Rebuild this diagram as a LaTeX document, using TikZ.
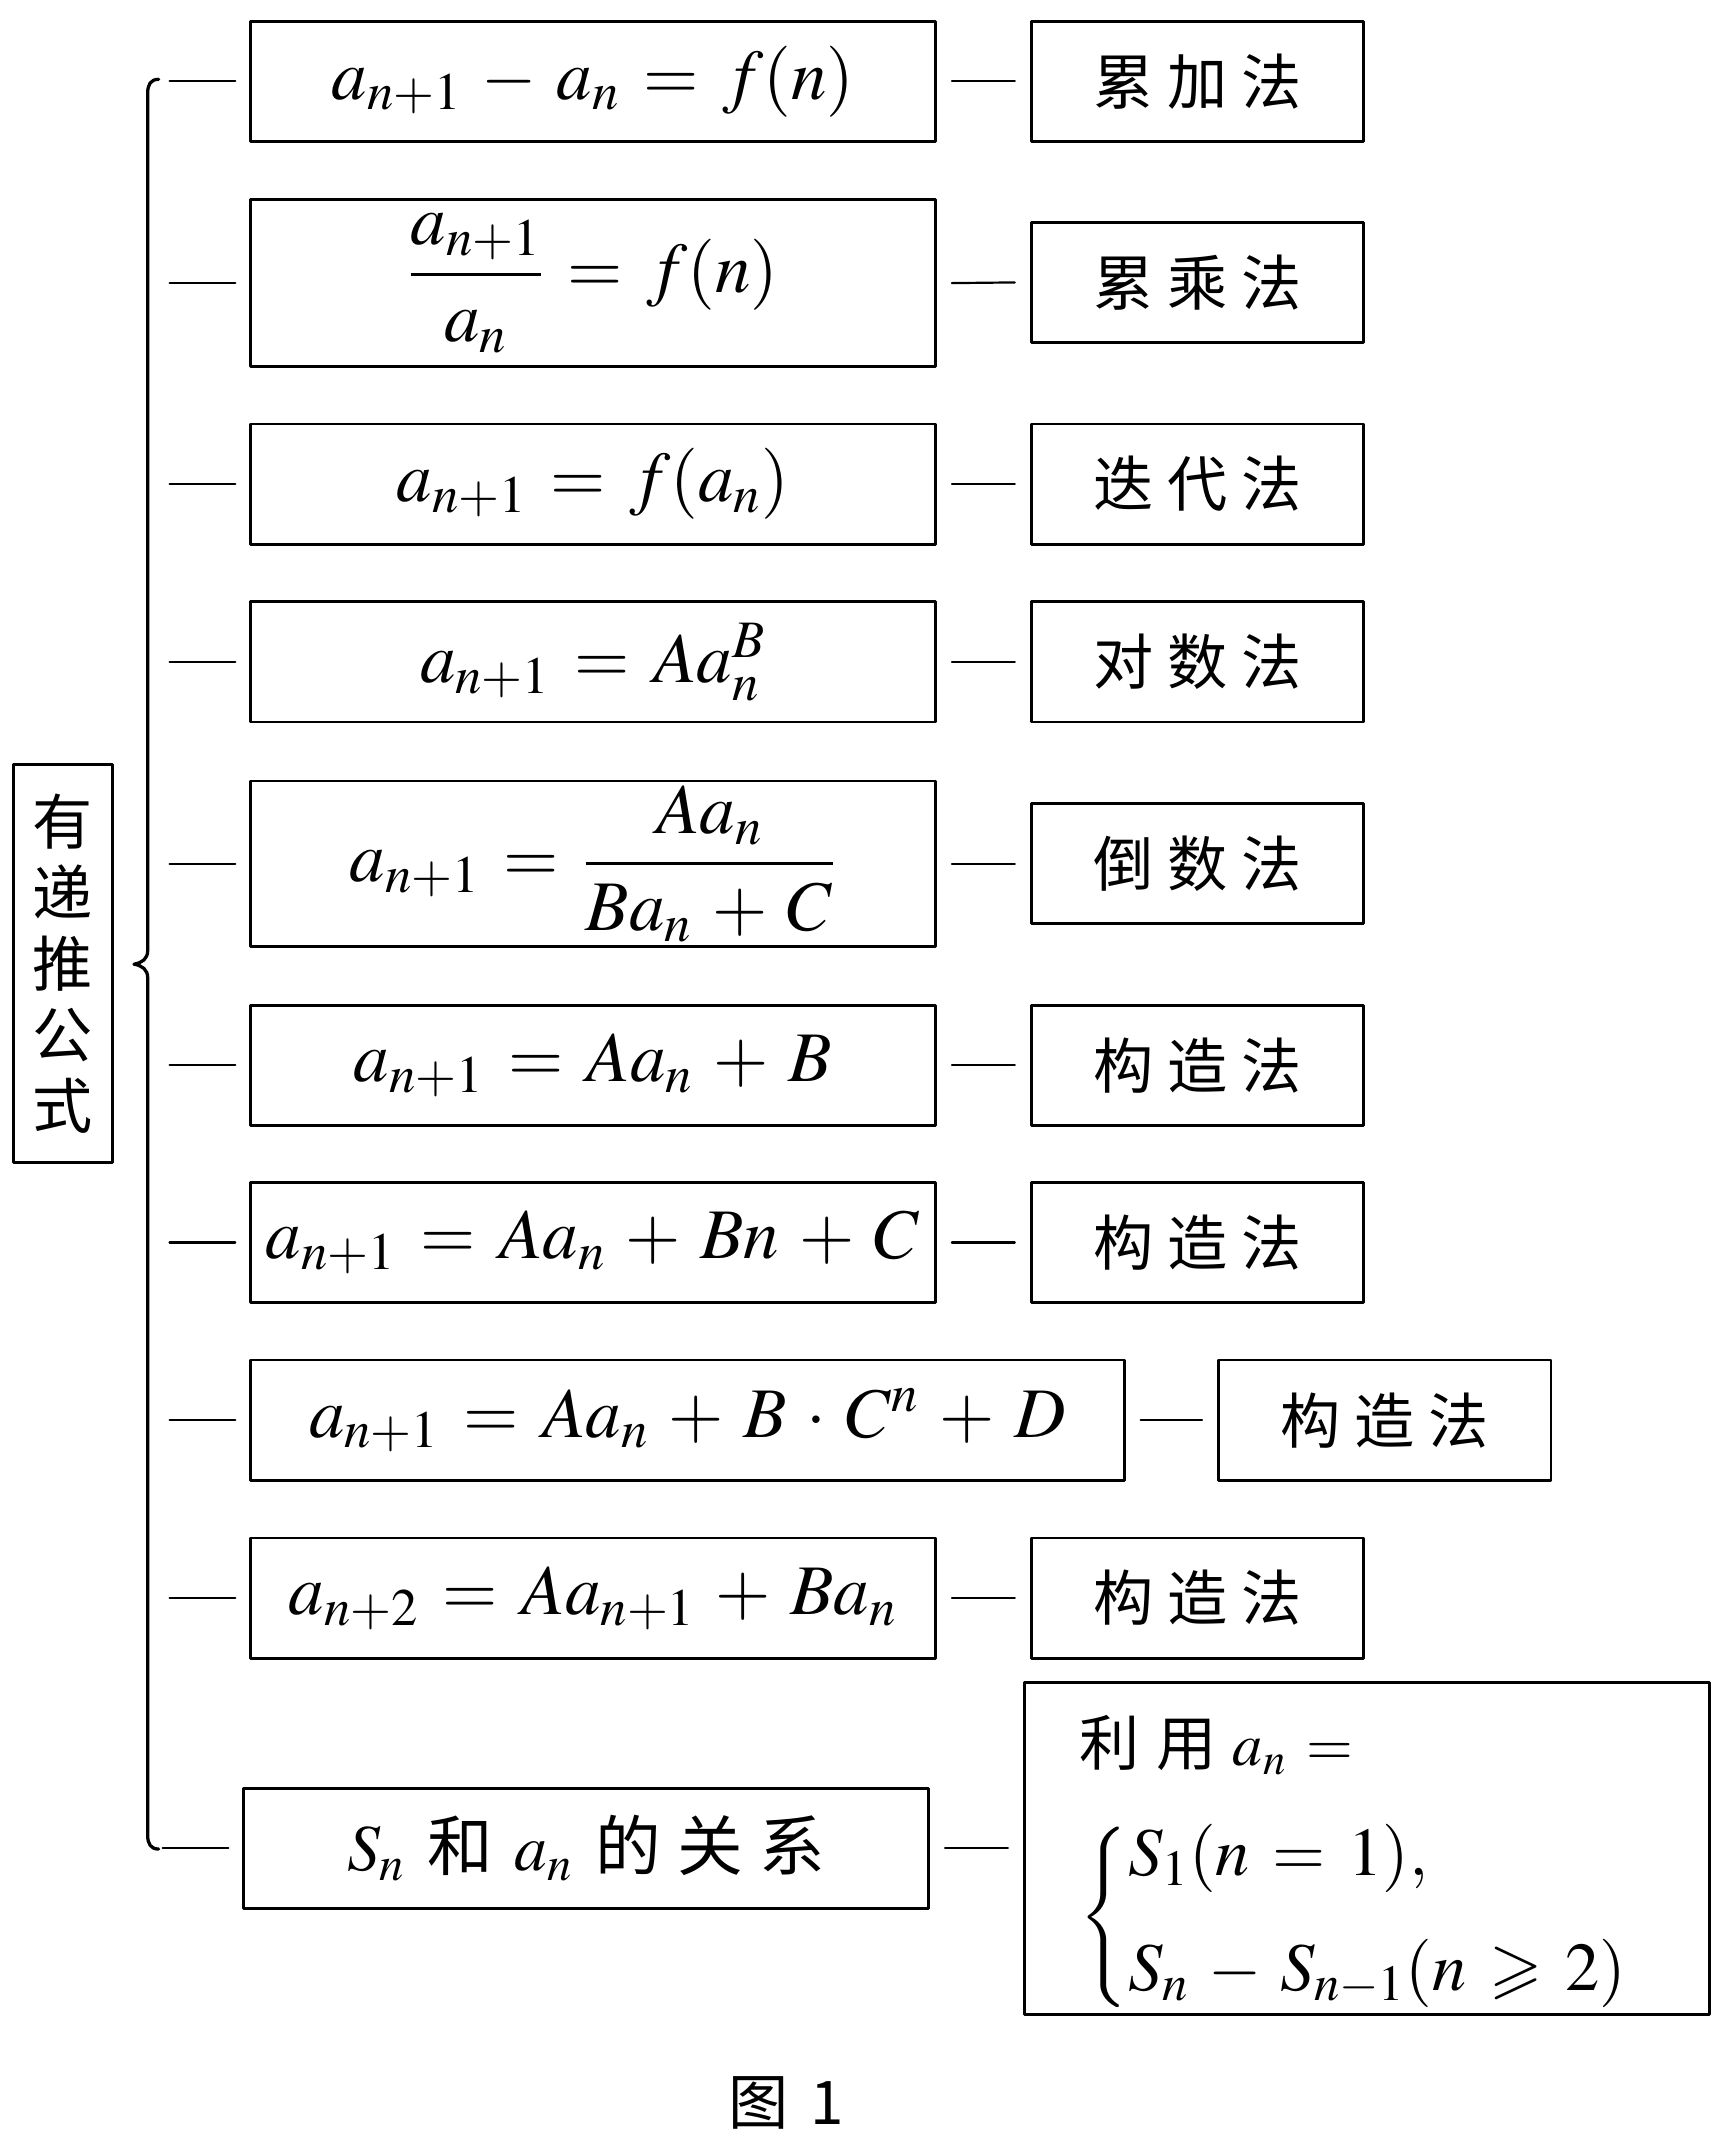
\documentclass[tikz,border=0pt]{standalone}
\usepackage{mathptmx}
\usepackage{amsmath,amssymb}
\usepackage{fontspec}
\newfontfamily\cjk{Noto Sans CJK SC}
\thickmuskip=6mu
\medmuskip=5mu
\begin{document}
\begin{tikzpicture}[x=0.5pt, y=-0.5pt, line join=round, line cap=round,
	fbox/.style={draw, line width=1pt, minimum width=250.5pt, minimum height=44pt, inner sep=0pt, font=\cjk\fontsize{26}{28}\selectfont},
	mbox/.style={draw, line width=1pt, minimum width=121.5pt, minimum height=44pt, inner sep=0pt, font=\cjk\fontsize{22}{26}\selectfont}]
	\def\g{\hspace{5pt}} % 字距
	\useasboundingbox (0,0) rectangle (1267,1575);
	% 左
	\node[draw, line width=1pt, minimum width=36pt, minimum height=145.5pt, inner sep=0pt, align=center, font=\cjk\fontsize{22}{26}\selectfont] (L) at (46,704.5) {有\\递\\推\\公\\式};
	\draw[line width=1.2pt] (116,58) .. controls (110,58) and (108,62) .. (108,68) -- (108,695) .. controls (108,701) and (104,704) .. (98,705) .. controls (104,706) and (108,709) .. (108,715) -- (108,1342) .. controls (108,1348) and (110,1352) .. (116,1352);
	% 公式
	\node[fbox] (f1) at (433.5,59.5) {$a_{n+1}-a_n=f(n)$};
	\node[fbox, minimum height=61pt] (f2) at (433.5,207) {$\dfrac{a_{n+1}}{a_n}=f(n)$};
	\node[fbox] (f3) at (433.5,354) {$a_{n+1}=f(a_n)$};
	\node[fbox] (f4) at (433.5,484) {$a_{n+1}=Aa_n^B$};
	\node[fbox, minimum height=60.5pt] (f5) at (433.5,631.5) {$a_{n+1}=\dfrac{Aa_n}{Ba_n+C}$};
	\node[fbox] (f6) at (433.5,779) {$a_{n+1}=Aa_n+B$};
	\node[fbox] (f7) at (433.5,908.5) {$a_{n+1}=Aa_n+Bn+C$};
	\node[fbox, minimum width=319.5pt] (f8) at (502.5,1038.5) {$a_{n+1}=Aa_n+B\cdot C^n+D$};
	\node[fbox] (f9) at (433.5,1168.5) {$a_{n+2}=Aa_{n+1}+Ba_n$};
	\node[fbox, font=\cjk\fontsize{24}{28}\selectfont] (f10) at (428.5,1351.5) {$S_n$\hspace{8pt}和\hspace{8pt}$a_n$\hspace{8pt}的\hspace{6pt}关\hspace{6pt}系};
	% 方法
	\node[mbox] (m1) at (875.5,59.5) {累\g 加\g 法};
	\node[mbox] (m2) at (875.5,206.5) {累\g 乘\g 法};
	\node[mbox] (m3) at (875.5,354) {迭\g 代\g 法};
	\node[mbox] (m4) at (875.5,484) {对\g 数\g 法};
	\node[mbox] (m5) at (875.5,631.5) {倒\g 数\g 法};
	\node[mbox] (m6) at (875.5,779) {构\g 造\g 法};
	\node[mbox] (m7) at (875.5,908.5) {构\g 造\g 法};
	\node[mbox] (m8) at (1012.5,1038.5) {构\g 造\g 法};
	\node[mbox] (m9) at (875.5,1168.5) {构\g 造\g 法};
	\node[draw, line width=1pt, minimum width=250.5pt, minimum height=121.5pt, text width=210pt, inner xsep=20pt, inner ysep=0pt, align=left, font=\cjk\fontsize{22}{28}\selectfont] (m10) at (999.5,1351.5) {\rule{0pt}{30pt}利\hspace{6pt}用\hspace{6pt}$\fontsize{25}{28}\selectfont a_n=$\\[16pt]
		$\fontsize{25}{28}\selectfont\left\{\begin{array}{@{}l@{}}S_1(n=1),\\[14pt] S_n-S_{n-1}(n\geqslant 2)\end{array}\right.$};
	\foreach \i in {1,...,10} {
		\draw[line width=0.8pt] (f\i.west) ++(-10,0) -- ++(-48,0);
		\draw[line width=0.8pt] ([xshift=5.5pt]f\i.east) -- ([xshift=-5.5pt]m\i.west);
	}
	\node[font=\cjk\fontsize{22}{26}\selectfont] (cap) at (575,1538) {图\hspace{8pt}1};
\end{tikzpicture}
\end{document}
